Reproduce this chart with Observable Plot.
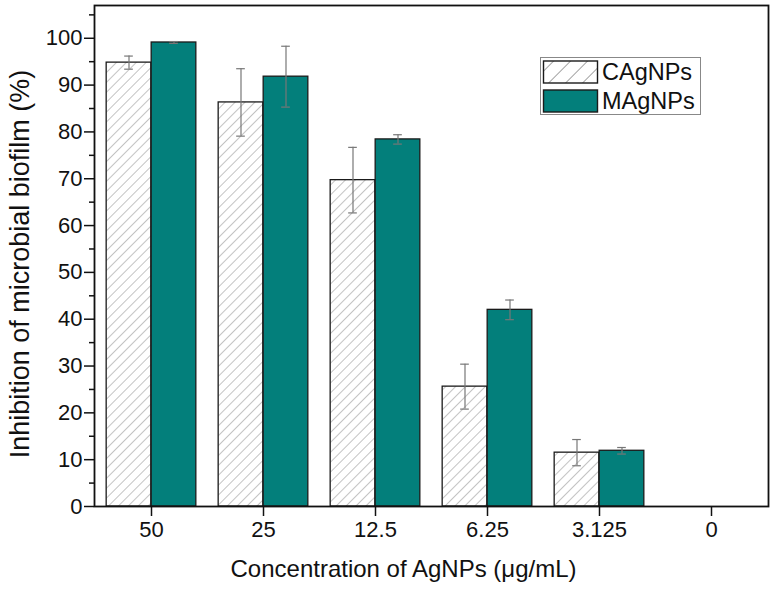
<!DOCTYPE html>
<html><head><meta charset="utf-8">
<script src="https://cdn.jsdelivr.net/npm/d3@7"></script>
<script src="https://cdn.jsdelivr.net/npm/@observablehq/plot@0.6"></script>
<style>
body{margin:0;background:#fff;}
#wrap{position:relative;width:774px;height:596px;font-family:"Liberation Sans",Arial,sans-serif;}
#legend{position:absolute;left:540px;top:57px;}
</style></head><body><div id="wrap"></div>
<script>
// ---- data ----
const concentrations = ["50", "25", "12.5", "6.25", "3.125", "0"];
const seriesNames = ["CAgNPs", "MAgNPs"];
const cagnpsMean = [94.8, 86.3, 69.7, 25.6, 11.5];
const cagnpsErr  = [1.4, 7.2, 7.0, 4.8, 2.8];
const magnpsMean = [99.1, 91.8, 78.4, 42.0, 11.9];
const magnpsErr  = [0.2, 6.5, 1.0, 2.1, 0.7];
const yMajorTicks = [0, 10, 20, 30, 40, 50, 60, 70, 80, 90, 100];
const yMinorTicks = [5, 15, 25, 35, 45, 55, 65, 75, 85, 95, 105];
const xTitle = "Concentration of AgNPs (\u03bcg/mL)";
const yTitle = "Inhibition of microbial biofilm (%)";

// ---- layout ----
const W = 774, H = 596, ML = 94, MR = 6, MT = 5, MB = 90;
const bw = (W - ML - MR) / concentrations.length;
const BAR = 45, CAP = 9;
const TEAL = "#037f7b";
const FONT = "'Liberation Sans', Arial, sans-serif";
const TICKFONT = 22;

const barsC = cagnpsMean.map((v, i) => ({conc: concentrations[i], value: v, err: cagnpsErr[i]}));
const barsM = magnpsMean.map((v, i) => ({conc: concentrations[i], value: v, err: magnpsErr[i]}));

const errMarks = (data, side) => {
  const center = side < 0 ? bw / 2 - BAR / 2 : bw / 2 + BAR / 2;
  const capOpts = {x: "conc", stroke: "#777", strokeWidth: 1.2,
    insetLeft: center - CAP / 2, insetRight: bw - center - CAP / 2};
  return [
    Plot.ruleX(data, {x: "conc", y1: d => d.value - d.err, y2: d => d.value + d.err,
      dx: side * BAR / 2, stroke: "#777", strokeWidth: 1.2}),
    Plot.tickY(data, {...capOpts, y: d => d.value + d.err}),
    Plot.tickY(data, {...capOpts, y: d => d.value - d.err})
  ];
};

const svg = Plot.plot({
  width: W, height: H,
  marginLeft: ML, marginRight: MR, marginTop: MT, marginBottom: MB,
  style: {fontFamily: FONT, fontSize: TICKFONT + "px", color: "#111", background: "#fff"},
  x: {domain: concentrations, padding: 0, axis: null},
  y: {domain: [0, 107], axis: null},
  marks: [
    Plot.barY(barsC, {x: "conc", y: "value", fill: "url(#hatchC)", stroke: "#1a1a1a", strokeWidth: 1.3,
      insetLeft: bw / 2 - BAR, insetRight: bw / 2}),
    Plot.barY(barsM, {x: "conc", y: "value", fill: TEAL, stroke: "#1a1a1a", strokeWidth: 1.3,
      insetLeft: bw / 2, insetRight: bw / 2 - BAR}),
    ...errMarks(barsC, -1),
    ...errMarks(barsM, 1),
    Plot.axisY(yMajorTicks, {tickSize: 10, tickPadding: 2, strokeWidth: 1.5, fontSize: TICKFONT, label: null}),
    Plot.axisY(yMinorTicks.filter(t => t <= 107), {tickSize: 5, strokeWidth: 1.5, text: null, label: null}),
    Plot.axisX({tickSize: 10, tickPadding: 5, strokeWidth: 1.5, fontSize: TICKFONT, label: null}),
    Plot.frame({stroke: "#111", strokeWidth: 1.8}),
    Plot.text([xTitle], {frameAnchor: "bottom", dy: 70, dx: -28, fontSize: 24, fill: "#111", text: d => d}),
    Plot.text([yTitle], {frameAnchor: "left", dx: -74, dy: 8, rotate: -90, textAnchor: "middle",
      fontSize: 27, fill: "#111", text: d => d})
  ]
});

d3.select(svg).selectAll('g[aria-label*="tick label"]')
  .style("font-size", TICKFONT + "px")
  .selectAll("text").style("font-size", TICKFONT + "px");

d3.select(svg).insert("defs", ":first-child").html(
  `<pattern id="hatchC" patternUnits="userSpaceOnUse" width="7" height="7" patternTransform="rotate(45)">
     <rect width="7" height="7" fill="#fff"/>
     <line x1="0" y1="0" x2="0" y2="7" stroke="#888" stroke-width="1"/>
   </pattern>`);

const wrap = document.getElementById("wrap");
wrap.appendChild(svg);

// legend
const lg = d3.create("svg").attr("id", "legend").attr("width", 162).attr("height", 59)
  .style("font-family", FONT);
lg.append("defs").html(
  `<pattern id="hatchL" patternUnits="userSpaceOnUse" width="12" height="12" patternTransform="rotate(45)">
     <rect width="12" height="12" fill="#fff"/>
     <line x1="0" y1="0" x2="0" y2="12" stroke="#555" stroke-width="1.1"/>
   </pattern>`);
lg.append("rect").attr("x", 0.5).attr("y", 0.5).attr("width", 160).attr("height", 57)
  .attr("fill", "#fff").attr("stroke", "#888").attr("stroke-width", 1);
const fills = ["url(#hatchL)", TEAL];
seriesNames.forEach((name, i) => {
  const y0 = 4 + i * 29;
  lg.append("rect").attr("x", 3.5).attr("y", y0).attr("width", 54).attr("height", 22)
    .attr("fill", fills[i]).attr("stroke", "#1a1a1a").attr("stroke-width", 1.4);
  lg.append("text").attr("x", 62).attr("y", y0 + 11).attr("dy", "0.36em")
    .attr("font-size", 23.5).attr("fill", "#111").text(name);
});
wrap.appendChild(lg.node());
</script></body></html>
